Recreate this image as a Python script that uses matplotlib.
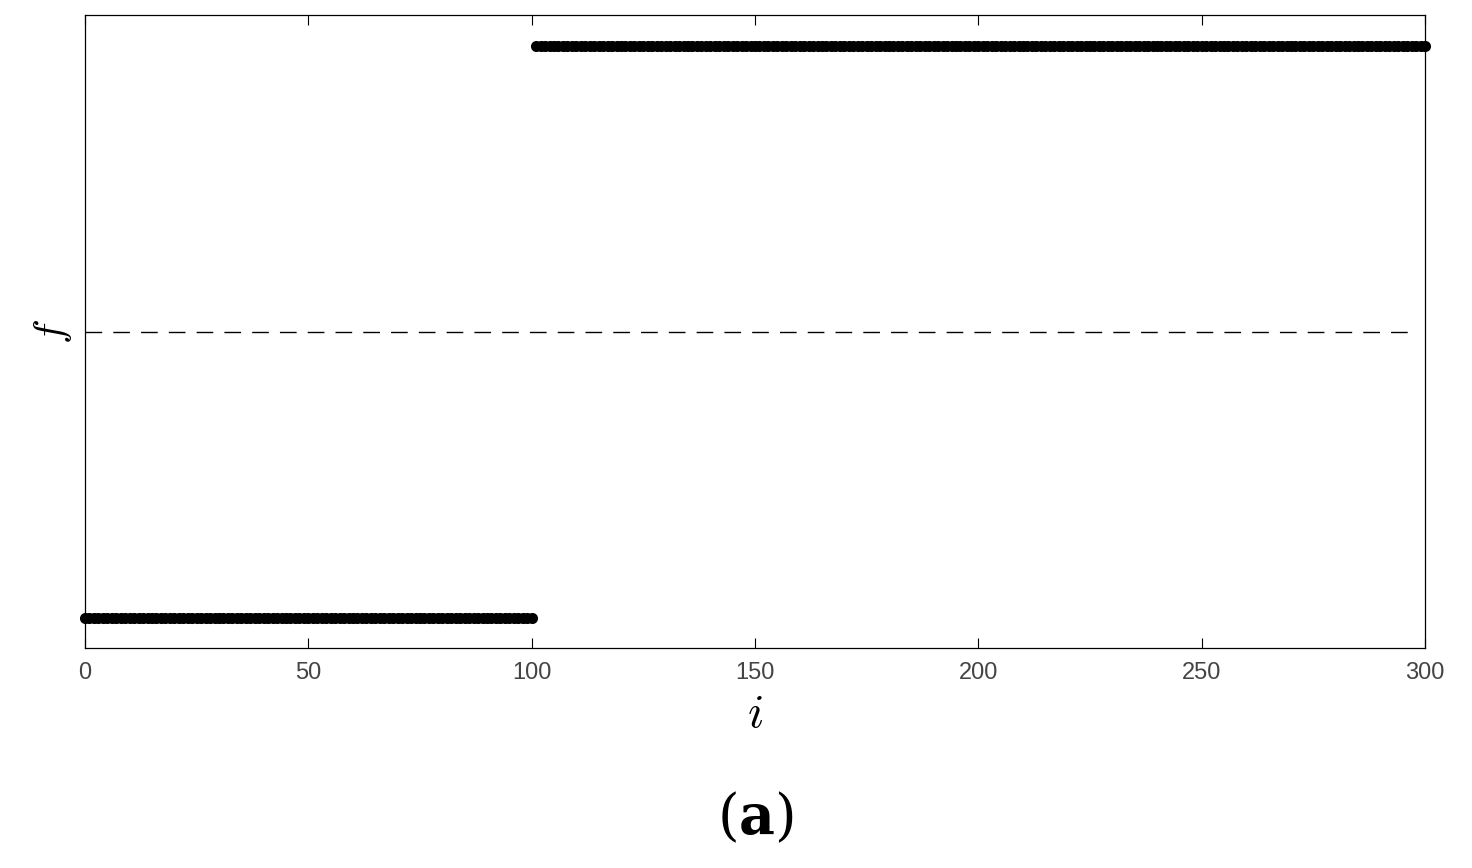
import numpy as np
import matplotlib.pyplot as plt

# step data: f is low for i <= 100, high afterwards
i_low = np.arange(0, 101)
i_high = np.arange(101, 301)
f_low = -1.0
f_high = 1.0
threshold = 0.0

fig = plt.figure(figsize=(14.72, 8.68), dpi=100)
ax = fig.add_axes([85 / 1472, 1 - 648 / 868, 1340 / 1472, 633 / 868])

ax.plot(i_low, np.full(len(i_low), f_low), 'o', color='black', ms=8, mew=0,
        clip_on=False)
ax.plot(i_high, np.full(len(i_high), f_high), 'o', color='black', ms=8, mew=0,
        clip_on=False)
ax.axhline(threshold, xmin=0, xmax=0.99, color='black', lw=1, dashes=(12, 8))

ax.set_xlim(0, 300)
ax.set_ylim(-1.105, 1.108)
ax.set_xticks([0, 50, 100, 150, 200, 250, 300])
ax.set_yticks([])
ax.tick_params(axis='x', direction='in', top=True, length=7, pad=10,
               labelsize=17, labelcolor='#444444')
for lab in ax.get_xticklabels():
    lab.set_family('Liberation Sans')
for s in ax.spines.values():
    s.set_linewidth(0.9)

ax.set_xlabel('$i$', fontsize=34, labelpad=6, math_fontfamily='cm')
ax.set_ylabel('$f$', fontsize=30, labelpad=8, math_fontfamily='cm')

fig.text(755 / 1472, 1 - 818 / 868, r'$(\mathbf{a})$', fontsize=40,
         ha='center', va='center', math_fontfamily='dejavuserif')

fig.savefig('out.png', dpi=100)
